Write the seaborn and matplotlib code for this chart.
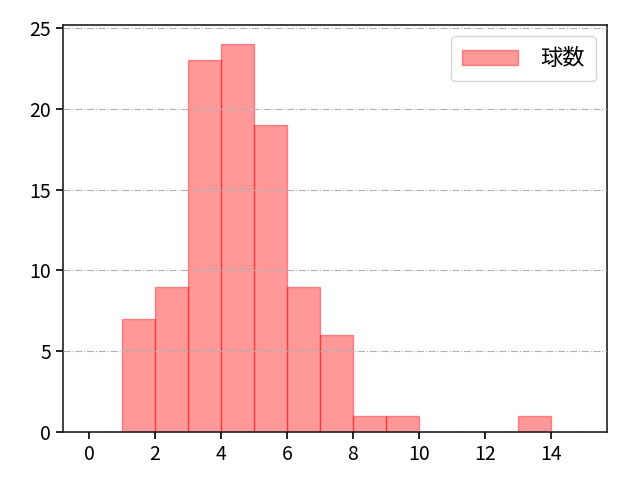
import matplotlib
matplotlib.use("Agg")
import matplotlib.pyplot as plt
import seaborn as sns

# histogram bins (left edges) and counts
bin_edges = list(range(0, 16))
bin_left = [1, 2, 3, 4, 5, 6, 7, 8, 9, 13]
counts = [7, 9, 23, 24, 19, 9, 6, 1, 1, 1]
label = "球数"

sns.set_style("ticks")
plt.rcParams["font.family"] = ["Noto Sans CJK JP", "DejaVu Sans"]
plt.rcParams["text.color"] = "black"
plt.rcParams["xtick.color"] = "black"
plt.rcParams["ytick.color"] = "black"

fig, ax = plt.subplots(figsize=(6.4, 4.8), dpi=100)
fig.subplots_adjust(left=0.098, right=0.948, bottom=0.1, top=0.948)

sns.histplot(x=bin_left, weights=counts, bins=bin_edges, color="red",
             alpha=0.4, edgecolor=(1, 0, 0, 0.4), linewidth=1.0, label=label, ax=ax)

ax.set_xlim(-0.8, 15.7)
ax.set_ylim(0, 25.2)
ax.set_xticks(range(0, 16, 2))
ax.set_yticks(range(0, 26, 5))
ax.set_xlabel("")
ax.set_ylabel("")
ax.tick_params(labelsize=14, direction="out", width=1.2, length=5)
ax.yaxis.grid(True, linestyle="-.", color="#b0b0b0", linewidth=0.8)
ax.set_axisbelow(False)
for s in ax.spines.values():
    s.set_visible(True)
    s.set_color("#202020")
    s.set_linewidth(1.2)

ax.legend(loc="upper right", fontsize=16, borderpad=0.5, handlelength=2.5,
          handletextpad=1.0)

fig.savefig("out.png", dpi=100)
